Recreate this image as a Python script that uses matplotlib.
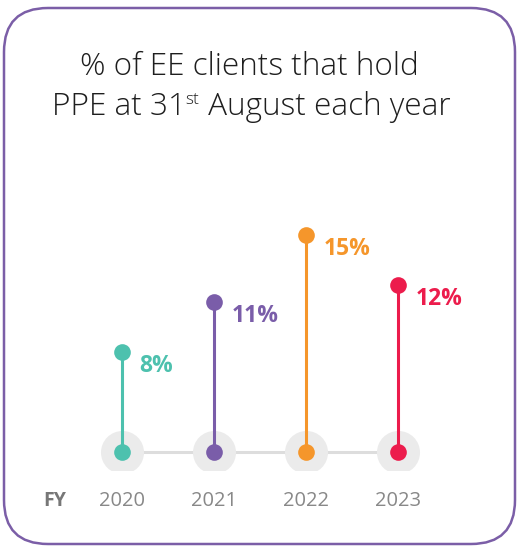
import matplotlib
matplotlib.use("Agg")
import matplotlib.pyplot as plt
from matplotlib.patches import FancyBboxPatch

# Data
years = ["2020", "2021", "2022", "2023"]
shares = [8, 11, 15, 12]           # % of EE clients holding PPE
labels = ["8%", "11%", "15%", "12%"]
colors = ["#4DC1AE", "#7A5DA9", "#F5962B", "#EC1C4C"]

W, H = 519, 547
DPI = 100
fig = plt.figure(figsize=(W / DPI, H / DPI), dpi=DPI)

# Background axes in pixel coordinates for the frame and title
bg = fig.add_axes([0, 0, 1, 1])
bg.set_xlim(0, W)
bg.set_ylim(H, 0)
bg.axis("off")

frame = FancyBboxPatch((4, 8), W - 8, H - 11,
                       boxstyle="round,pad=0,rounding_size=44",
                       fc="white", ec="#7B5EA7", lw=1.8)
bg.add_patch(frame)

title_font = dict(family=["Open Sans", "DejaVu Sans"], weight="light",
                  color="#1E1E1E")
TFS = 21.5
fig.canvas.draw()
r = fig.canvas.get_renderer()

line1 = bg.text(249, 75, "% of EE clients that hold", fontsize=TFS,
                ha="center", va="baseline", **title_font)
# scale title so the first line spans the intended width
w1 = line1.get_window_extent(r).width
TFS = TFS * 338 / w1
line1.set_fontsize(TFS)

# Second title line with a superscript ordinal
parts = [("PPE at 31", TFS, 0), ("st", TFS * 0.55, -11), (" August each year", TFS, 0)]
objs = []
for s, fs, dy in parts:
    t = bg.text(0, 115 + dy, s, fontsize=fs, ha="left", va="baseline", **title_font)
    objs.append(t)
widths = [t.get_window_extent(r).width for t in objs]
x0 = 251 - sum(widths) / 2
for t, w in zip(objs, widths):
    t.set_x(x0)
    x0 += w

# Chart axes
ax = fig.add_axes([30 / W, (H - 470) / H, 460 / W, 269 / H])
ax.set_xlim(-1, 4)
ax.set_ylim(1, 17)
ax.axis("off")

base = 2.1
xs = list(range(len(years)))
ax.plot([xs[0], xs[-1]], [base, base], color="#DDDDDD", lw=2.2, zorder=1)
ax.plot(xs, [base] * len(xs), "o", ms=31, color="#EBEBEB", mec="none", zorder=2)
for x, v, c, lab in zip(xs, shares, colors, labels):
    ax.plot([x, x], [base, v], color=c, lw=2.2, zorder=3, solid_capstyle="butt")
    ax.plot([x], [base], "o", ms=12, color=c, mec="none", zorder=4)
    ax.plot([x], [v], "o", ms=12, color=c, mec="none", zorder=4)
    ax.annotate(lab, (x, v), xytext=(12.5, -10), textcoords="offset points",
                ha="left", va="center", fontsize=16.5, fontweight="bold",
                family="Open Sans", color=c)
    ax.annotate(years[x], (x, base), xytext=(0, -35.5), textcoords="offset points",
                ha="center", va="center", fontsize=14.5, family="Open Sans",
                color="#888888")

ax.annotate("FY", (-0.73, base), xytext=(0, -35.5), textcoords="offset points",
            ha="center", va="center", fontsize=14, fontweight="bold",
            family="Open Sans", color="#777777")

fig.savefig("out.png", dpi=DPI)
